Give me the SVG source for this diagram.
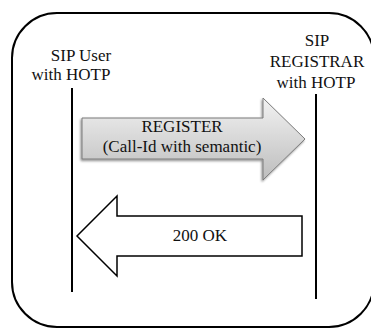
<svg xmlns="http://www.w3.org/2000/svg" width="371" height="329" viewBox="0 0 371 329">
  <style>
    text { font-family: 'Liberation Serif', 'Times New Roman', 'DejaVu Serif', serif; font-size: 17px; fill: #111; text-anchor: middle; }
    .life { stroke: #000; stroke-width: 2; fill: none; }
  </style>
  <defs>
    <linearGradient id="reqFill" x1="0" y1="0" x2="0" y2="1">
      <stop offset="0" stop-color="#f2f2f2"/>
      <stop offset="1" stop-color="#bdbdbd"/>
    </linearGradient>
    <filter id="shade" x="-10%" y="-10%" width="120%" height="130%">
      <feDropShadow dx="-1" dy="1.5" stdDeviation="1" flood-color="#000" flood-opacity="0.45"/>
    </filter>
  </defs>

  <rect width="371" height="329" fill="#fff"/>

  <!-- frame -->
  <rect x="12" y="13" width="362" height="314" rx="45" ry="45" fill="none" stroke="#000" stroke-width="2"/>

  <g id="sip-user" font-family="Liberation Serif, serif">
    <text x="81" y="61">SIP User</text>
    <text x="71" y="80">with HOTP</text>
  </g>

  <g id="sip-registrar" font-family="Liberation Serif, serif">
    <text x="317" y="46">SIP</text>
    <text x="317" y="67">REGISTRAR</text>
    <text x="316" y="88">with HOTP</text>
  </g>

  <g id="connectors" font-family="Liberation Serif, serif">
    <line class="life" x1="72" y1="88" x2="72" y2="292"/>
    <line class="life" x1="316" y1="94" x2="316" y2="299"/>

    <g id="register">
      <polygon points="82,118 263,118 263,98 305,139 263,180 263,159 82,159"
               fill="url(#reqFill)" stroke="#7a7a7a" stroke-width="1" filter="url(#shade)"/>
      <text x="182" y="132">REGISTER</text>
      <text x="182" y="152">(Call-Id with semantic)</text>
    </g>

    <g id="ok">
      <polygon points="302,216 117,216 117,196 77,236 117,276 117,256 302,256"
               fill="#fff" stroke="#000" stroke-width="1.5"/>
      <text x="200" y="241">200 OK</text>
    </g>
  </g>
</svg>
